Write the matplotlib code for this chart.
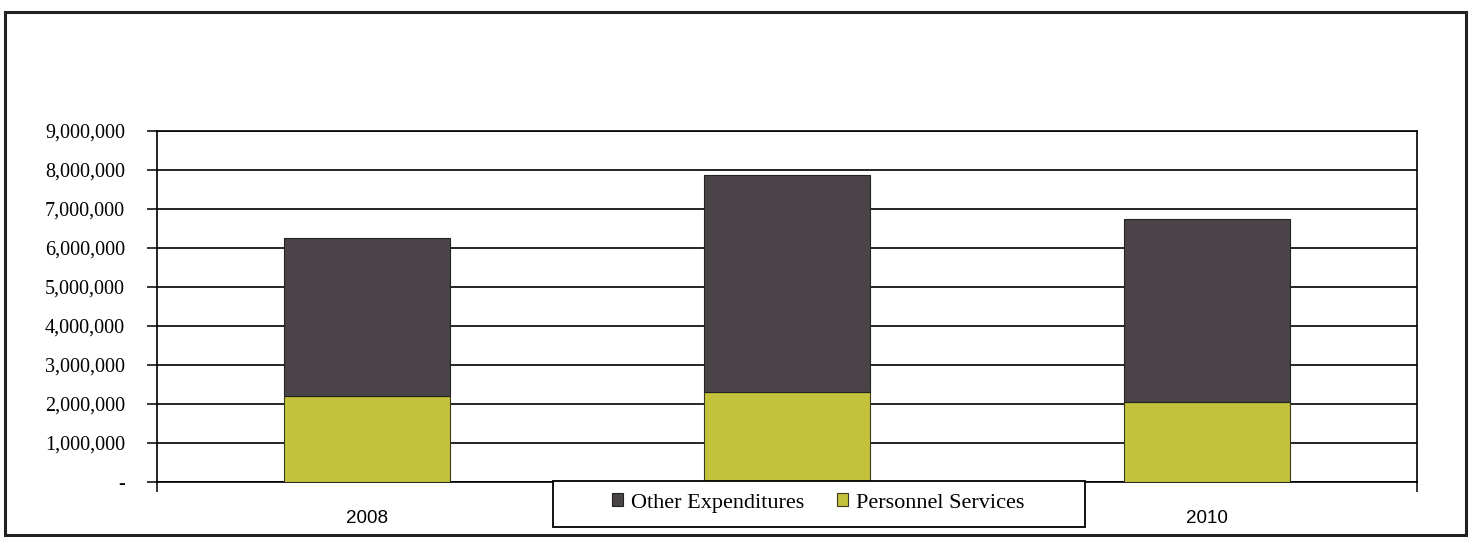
import matplotlib.pyplot as plt
import numpy as np
from matplotlib.patches import Rectangle
from matplotlib.ticker import FuncFormatter

# data
years = ['2008', '2009', '2010']
personnel = [2200000, 2310000, 2050000]
other = [4060000, 5560000, 4690000]

dark = '#4a4449'
olive = '#c3c23c'

fig = plt.figure(figsize=(14.73, 5.37), dpi=100)
ax = fig.add_axes([157/1473, 55/537, 1260/1473, 351/537])

x = np.arange(len(years))
ax.bar(x, personnel, width=0.395, color=olive, edgecolor='#3a3a20', linewidth=0.8,
       label='Personnel Services', zorder=3)
ax.bar(x, other, width=0.395, bottom=personnel, color=dark, edgecolor='#222222',
       linewidth=0.8, label='Other Expenditures', zorder=3)

ax.set_xlim(-0.5, 2.5)
ax.set_ylim(0, 9000000)
ax.set_yticks(np.arange(0, 9000001, 1000000))
ax.yaxis.set_major_formatter(FuncFormatter(lambda v, p: '-' if v == 0 else f'{int(v):,}'))
ax.grid(axis='y', color='black', linewidth=1.2, zorder=0)
ax.set_axisbelow(True)

ax.set_xticks(x)
ax.set_xticklabels(years, family='Liberation Sans', fontsize=13.5)
# the middle year is covered by the legend box in the original
ax.get_xticklabels()[1].set_visible(False)
ax.set_xticks([-0.5, 0.5, 1.5, 2.5], minor=True)
ax.tick_params(axis='x', which='major', length=0, pad=20)
ax.tick_params(axis='x', which='minor', length=7, width=1.1, direction='out')
ax.tick_params(axis='y', length=7, width=1.1, pad=16, labelsize=14.5)
for lab in ax.get_yticklabels():
    lab.set_family('Liberation Serif')

for s in ax.spines.values():
    s.set_color('black')
    s.set_linewidth(1.2)

# legend box sits over the middle category label
fig.patches.append(Rectangle((553/1473, 1 - 527/537), 532/1473, 46/537,
                             transform=fig.transFigure, facecolor='white',
                             edgecolor='black', linewidth=1.3, zorder=9))
h, l = ax.get_legend_handles_labels()
leg = fig.legend(h[::-1], l[::-1], loc='center', bbox_to_anchor=(818/1473, 1 - 503/537),
                 ncol=2, frameon=False,
                 prop={'family': 'Liberation Serif', 'size': 16},
                 handlelength=0.5, handleheight=0.5, handletextpad=0.35,
                 columnspacing=1.5, borderpad=0.3)
leg.set_zorder(10)

# outer border
fig.patches.append(Rectangle((5/1473, 2/537), 1461/1473, 523/537, transform=fig.transFigure,
                             fill=False, edgecolor='#222222', linewidth=2.2))

plt.savefig('out.png', dpi=100)
